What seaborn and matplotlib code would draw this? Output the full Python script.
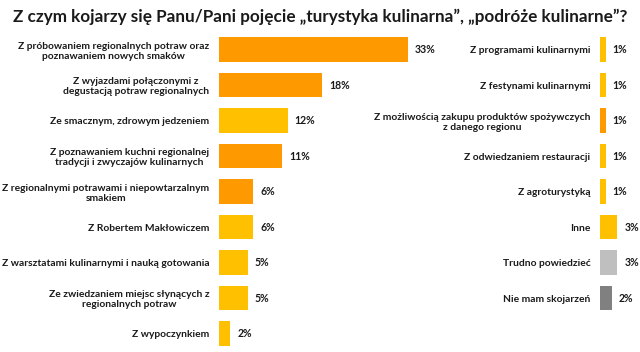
import seaborn as sns
import matplotlib.pyplot as plt
import pandas as pd

# data
left_labels = [
    'Z próbowaniem regionalnych potraw oraz\npoznawaniem nowych smaków',
    'Z wyjazdami połączonymi z\ndegustacją potraw regionalnych',
    'Ze smacznym, zdrowym jedzeniem',
    'Z poznawaniem kuchni regionalnej\ntradycji i zwyczajów kulinarnych',
    'Z regionalnymi potrawami i niepowtarzalnym\nsmakiem',
    'Z Robertem Makłowiczem',
    'Z warsztatami kulinarnymi i nauką gotowania',
    'Ze zwiedzaniem miejsc słynących z\nregionalnych potraw',
    'Z wypoczynkiem',
]
left_values = [33, 18, 12, 11, 6, 6, 5, 5, 2]
left_groups = ['reg', 'reg', 'other', 'reg', 'reg', 'other', 'other', 'other', 'other']

right_labels = [
    'Z programami kulinarnymi',
    'Z festynami kulinarnymi',
    'Z możliwością zakupu produktów spożywczych\nz danego regionu',
    'Z odwiedzaniem restauracji',
    'Z agroturystyką',
    'Inne',
    'Trudno powiedzieć',
    'Nie mam skojarzeń',
]
right_values = [1, 1, 1, 1, 1, 3, 3, 2]
right_groups = ['other', 'other', 'reg', 'other', 'other', 'other', 'hard', 'none']

palette = {'reg': '#FF9900', 'other': '#FFC000', 'hard': '#BFBFBF', 'none': '#808080'}

plt.rcParams['font.family'] = ['Lato', 'DejaVu Sans']
text_color = '#1a1a1a'

fig = plt.figure(figsize=(6.4, 3.52), dpi=100)
ax_l = fig.add_axes([219 / 640, 0.002, 229 / 640, 0.9077])
ax_r = fig.add_axes([600 / 640, 0.002, 36 / 640, 0.9077])

df_l = pd.DataFrame({'label': left_labels, 'value': left_values, 'group': left_groups})
df_r = pd.DataFrame({'label': right_labels, 'value': right_values, 'group': right_groups})

for ax, df, xmax in [(ax_l, df_l, 40), (ax_r, df_r, 6.2)]:
    sns.barplot(data=df, x='value', y='label', hue='group', palette=palette,
                dodge=False, width=0.7, legend=False, ax=ax, saturation=1)
    for c in ax.containers:
        ax.bar_label(c, labels=[f'{int(v)}%' if v == v else '' for v in c.datavalues],
                     padding=5, fontsize=7.6, fontweight='bold', color=text_color)
    ax.set_xlim(0, xmax)
    ax.set_ylim(8.5, -0.5)
    ax.set_xlabel('')
    ax.set_ylabel('')
    ax.set_xticks([])
    ax.tick_params(axis='y', length=0, pad=7)
    for t in ax.get_yticklabels():
        t.set_fontsize(7.4)
        t.set_fontweight('bold')
        t.set_color(text_color)
        t.set_horizontalalignment('right')
        t.set_multialignment('center')
    for s in ax.spines.values():
        s.set_visible(False)
    ax.set_facecolor('none')

fig.text(0.5, 0.952, 'Z czym kojarzy się Panu/Pani pojęcie „turystyka kulinarna”, „podróże kulinarne”?',
         ha='center', va='center', fontsize=12.3, fontweight='bold', color=text_color)

fig.savefig('out.png', dpi=100)
